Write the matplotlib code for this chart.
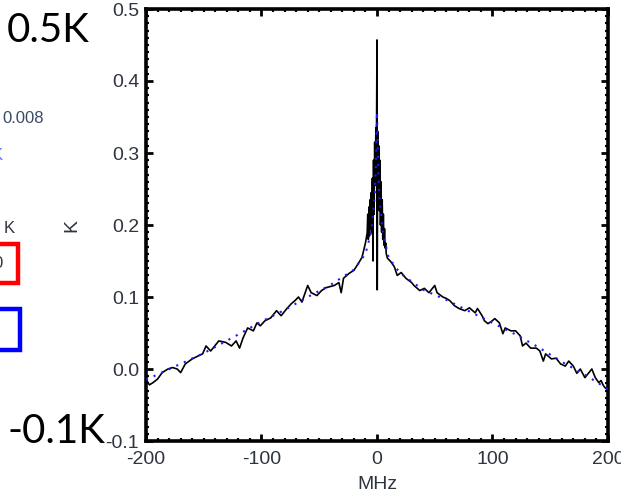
import matplotlib
matplotlib.use("Agg")
import matplotlib.pyplot as plt
from matplotlib.patches import Rectangle
from matplotlib.ticker import MultipleLocator, FormatStrFormatter

freq = [-200, -197, -194, -190, -186, -181, -177, -173, -170, -166, -160, -155,
        -151, -148, -144, -139, -137, -131, -126, -122, -119, -116, -112, -107,
        -104, -101, -97, -92, -87, -83, -78, -74, -71, -68, -65, -60, -57, -52,
        -48, -44, -37, -33, -31, -29, -24, -20, -16, -13, -10,
        -8.5, -8, -7.5, -7, -6.5, -6, -5.5, -5, -4.5, -4, -3.5, -3, -2.5, -2,
        -1.5, -1, -0.5, 0, 0.2, 0.6, 1, 1.5, 2, 2.5, 3, 3.5, 4, 4.5, 5, 5.5,
        6, 6.5, 7, 7.5, 8,
        9, 12, 15, 17.5, 21, 25, 30, 32, 37, 41, 45, 50,
        52, 57, 60, 63, 67, 71, 76, 80, 85, 87, 91, 93, 96, 99, 102, 106, 109,
        111, 116, 120, 124, 126, 129, 133, 138, 141, 144, 146, 151, 155, 159,
        163, 166, 170, 173, 176, 180, 183, 186, 189, 192, 194, 196, 198, 200]
temp = [-0.015, -0.022, -0.019, -0.014, -0.005, 0.000, 0.002, 0.000, -0.005,
        0.007, 0.014, 0.018, 0.021, 0.032, 0.025, 0.035, 0.039, 0.037, 0.032,
        0.039, 0.029, 0.043, 0.057, 0.053, 0.064, 0.060, 0.067, 0.071, 0.081,
        0.074, 0.084, 0.091, 0.095, 0.100, 0.093, 0.116, 0.106, 0.102, 0.109,
        0.113, 0.116, 0.120, 0.106, 0.126, 0.133, 0.137, 0.147, 0.155, 0.175,
        0.189, 0.215, 0.180, 0.225, 0.185, 0.235, 0.195, 0.245, 0.190, 0.265,
        0.150, 0.290, 0.215, 0.315, 0.255, 0.335, 0.300, 0.457, 0.110, 0.330,
        0.250, 0.310, 0.220, 0.290, 0.200, 0.260, 0.190, 0.235, 0.180, 0.215,
        0.172, 0.195, 0.168, 0.175, 0.160,
        0.154, 0.149, 0.142, 0.130, 0.134, 0.126, 0.120, 0.116, 0.109, 0.112,
        0.106, 0.116, 0.106, 0.100, 0.098, 0.095, 0.088, 0.084, 0.081, 0.085,
        0.078, 0.084, 0.074, 0.067, 0.063, 0.066, 0.070, 0.064, 0.049, 0.057,
        0.053, 0.053, 0.046, 0.032, 0.036, 0.029, 0.029, 0.025, 0.011, 0.021,
        0.014, 0.015, 0.007, 0.004, 0.011, 0.004, -0.006, 0.000, -0.012,
        -0.006, 0.000, -0.012, -0.019, -0.016, -0.023, -0.027, -0.025]

# model fit (blue dotted)
fit_freq = [-200, -150, -120, -100, -80, -60, -40, -20, -10, -5, -2, -1, 0,
            1, 2, 5, 10, 20, 40, 60, 80, 100, 120, 140, 160, 180, 200]
fit_temp = [-0.015, 0.022, 0.048, 0.066, 0.082, 0.100, 0.117, 0.138, 0.160,
            0.190, 0.240, 0.280, 0.357, 0.280, 0.240, 0.190, 0.155, 0.133,
            0.110, 0.096, 0.080, 0.064, 0.048, 0.030, 0.010, -0.008, -0.028]

W, H = 621, 496
fig = plt.figure(figsize=(W / 100, H / 100), dpi=100)
ax = fig.add_axes([146 / W, 1 - 441 / H, (608 - 146) / W, (441 - 9) / H])

ax.plot(freq, temp, color="black", lw=1.2, zorder=2)
ax.plot(fit_freq, fit_temp, color="#1a1aff", lw=1.5, ls=(0, (1, 3)), zorder=3)

ax.set_xlim(-200, 200)
ax.set_ylim(-0.1, 0.5)
ax.xaxis.set_major_locator(MultipleLocator(100))
ax.xaxis.set_minor_locator(MultipleLocator(10))
ax.yaxis.set_major_locator(MultipleLocator(0.1))
ax.yaxis.set_minor_locator(MultipleLocator(0.01))
ax.xaxis.set_major_formatter(FormatStrFormatter("%d"))
ax.yaxis.set_major_formatter(FormatStrFormatter("%.1f"))

lab_color = "#2e3440"
for s in ax.spines.values():
    s.set_linewidth(2.6)
ax.tick_params(which="both", direction="in", top=True, right=True,
               colors="black", labelcolor=lab_color)
ax.tick_params(which="major", length=5, width=2.0, labelsize=14,
               labelfontfamily="Liberation Sans")
ax.tick_params(which="minor", length=2.5, width=1.6)
ax.tick_params(axis="x", which="major", pad=7)
ax.tick_params(axis="y", which="major", pad=5)

ax.set_xlabel("MHz", fontsize=14, family="Liberation Sans", color=lab_color,
              labelpad=6)
ax.set_ylabel("K", fontsize=14, family="Liberation Sans", color=lab_color,
              labelpad=18)

# leftovers of the slide around the figure
fig.text(7 / W, 1 - 42 / H, "0.5K", fontsize=29, family="Lato",
         va="baseline", ha="left")
fig.text(8 / W, 1 - 443 / H, "-0.1K", fontsize=29, family="Lato",
         va="baseline", ha="left")
fig.text(44 / W, 1 - 123 / H, "0.008", fontsize=12, family="Liberation Sans",
         color="#3b4a66", va="baseline", ha="right")
fig.text(3 / W, 1 - 160 / H, "K", fontsize=12, family="Liberation Sans",
         color="#4d7fff", va="baseline", ha="right")
fig.text(15 / W, 1 - 233 / H, "K", fontsize=12, family="Liberation Sans",
         color="#2e3440", va="baseline", ha="right")
fig.text(3 / W, 1 - 268 / H, "0", fontsize=12, family="Liberation Sans",
         color="#2e3440", va="baseline", ha="right")
fig.add_artist(Rectangle((-20 / W, 1 - 283 / H), 38 / W, 39 / H,
                         transform=fig.transFigure, fill=False,
                         edgecolor="#ff0000", lw=3.2))
fig.add_artist(Rectangle((-20 / W, 1 - 350 / H), 40 / W, 41 / H,
                         transform=fig.transFigure, fill=False,
                         edgecolor="#0000ff", lw=3.2))

fig.savefig("out.png", dpi=100)
